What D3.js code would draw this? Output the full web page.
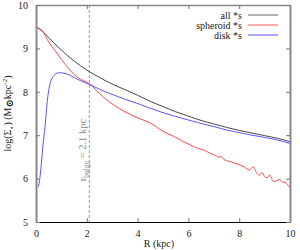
<!DOCTYPE html>
<html>
<head>
<meta charset="utf-8">
<script src="https://cdn.jsdelivr.net/npm/d3@7"></script>
<style>
  body { margin: 0; background: #fff; }
  svg text { font-family: "Liberation Serif", "DejaVu Serif", serif; fill: #222; }
</style>
</head>
<body>
<div id="chart"></div>
<script>
// radius (kpc) and log surface density for each component
var allR = [0, 0.25, 0.5, 0.75, 1, 1.25, 1.5, 1.75, 2, 2.5, 3, 3.5, 4, 4.5, 5, 5.5, 6, 6.5, 7, 7.5, 8, 8.5, 9, 9.5, 10];
var allLog = [9.49, 9.40, 9.25, 9.10, 8.96, 8.83, 8.71, 8.60, 8.50, 8.33, 8.18, 8.05, 7.92, 7.78, 7.66, 7.54, 7.44, 7.34, 7.26, 7.18, 7.11, 7.05, 6.99, 6.93, 6.85];

var spheroidR = [0, 0.25, 0.5, 0.75, 1, 1.25, 1.5, 1.75, 2, 2.25, 2.5, 3, 3.5, 4, 4.5, 5, 5.2, 5.4, 5.6, 5.8, 6, 6.2, 6.4, 6.6, 6.8, 7, 7.1, 7.2, 7.3, 7.4, 7.6, 7.8, 8, 8.2, 8.4, 8.55, 8.7, 8.8, 8.9, 9, 9.1, 9.2, 9.35, 9.5, 9.6, 9.7, 9.8, 9.9, 10];
var spheroidLog = [9.49, 9.40, 9.15, 8.95, 8.75, 8.56, 8.40, 8.29, 8.22, 8.11, 7.96, 7.72, 7.54, 7.40, 7.28, 7.09, 7.03, 6.98, 6.92, 6.85, 6.80, 6.74, 6.69, 6.66, 6.60, 6.55, 6.52, 6.49, 6.51, 6.44, 6.40, 6.36, 6.32, 6.27, 6.20, 6.27, 6.12, 6.08, 6.14, 6.05, 6.02, 6.08, 5.93, 5.96, 5.98, 5.92, 5.91, 5.86, 5.78];

var diskR = [0.08, 0.12, 0.16, 0.22, 0.28, 0.33, 0.38, 0.43, 0.48, 0.55, 0.65, 0.75, 0.9, 1.1, 1.3, 1.5, 1.7, 2.1, 2.5, 3, 3.5, 4, 4.5, 5, 5.5, 6, 6.5, 7, 7.5, 8, 8.5, 9, 9.5, 10];
var diskLog = [5.80, 5.88, 6.05, 6.40, 6.80, 7.05, 7.35, 7.70, 7.95, 8.18, 8.33, 8.40, 8.44, 8.43, 8.39, 8.33, 8.27, 8.17, 8.06, 7.94, 7.83, 7.73, 7.62, 7.52, 7.43, 7.35, 7.27, 7.20, 7.12, 7.06, 7.00, 6.95, 6.89, 6.81];

var xTicks = [0, 2, 4, 6, 8, 10];
var yTicks = [5, 6, 7, 8, 9, 10];
var legendNames = ["all *s", "spheroid *s", "disk *s"];
var rBulge = 2.1;

var W = 300, H = 250;
var margin = {left: 36, right: 290, top: 5, bottom: 222};

var x = d3.scaleLinear().domain([0, 10]).range([margin.left, margin.right]);
var y = d3.scaleLinear().domain([5, 10]).range([margin.bottom, margin.top]);

var svg = d3.select("#chart").append("svg")
    .attr("width", W)
    .attr("height", H);

// dashed bulge radius marker
svg.append("line")
    .attr("x1", x(rBulge)).attr("x2", x(rBulge))
    .attr("y1", margin.top).attr("y2", margin.bottom)
    .attr("stroke", "#999")
    .attr("stroke-width", 1)
    .attr("stroke-dasharray", "3,2");

var bl = svg.append("text")
    .attr("transform", "translate(" + (x(rBulge) - 3) + ",150) rotate(-90)")
    .attr("text-anchor", "middle")
    .style("fill", "#8a8a8a")
    .style("font-size", "10.5px");
bl.append("tspan").text("r");
bl.append("tspan").attr("baseline-shift", "-3").style("font-size", "7.5px").text("bulge");
bl.append("tspan").text(" = 2.1 kpc");

// curves
var line = d3.line()
    .x(function(d) { return x(d[0]); })
    .y(function(d) { return y(d[1]); })
    .curve(d3.curveMonotoneX);

var series = [
  { r: allR, v: allLog, color: "#333", key: "#999" },
  { r: spheroidR, v: spheroidLog, color: "#ff3333", key: "#ff9090" },
  { r: diskR, v: diskLog, color: "#4444ff", key: "#8c8cff" }
];

series.forEach(function(s) {
  svg.append("path")
      .datum(d3.zip(s.r, s.v))
      .attr("fill", "none")
      .attr("stroke", s.color)
      .attr("stroke-width", 0.9)
      .attr("d", line);
});

// axes, ticks pointing inward
function styleAxis(g, color, width) {
  g.select(".domain").attr("stroke", color).attr("stroke-width", width);
  g.selectAll(".tick line").attr("stroke", "#777");
  g.selectAll(".tick text").attr("fill", "#222").style("font-size", "10px")
      .style("font-family", "Liberation Serif, serif");
}

var gx = svg.append("g")
    .attr("transform", "translate(0," + margin.bottom + ")")
    .call(d3.axisBottom(x).tickValues(xTicks).tickSize(-4).tickSizeOuter(0).tickPadding(8).tickFormat(d3.format("d")));
styleAxis(gx, "#000", 1.2);

var gt = svg.append("g")
    .attr("transform", "translate(0," + margin.top + ")")
    .call(d3.axisTop(x).tickValues(xTicks).tickSize(-4).tickSizeOuter(0).tickFormat(""));
styleAxis(gt, "#888", 1.5);

var gy = svg.append("g")
    .attr("transform", "translate(" + margin.left + ",0)")
    .call(d3.axisLeft(y).tickValues(yTicks).tickSize(-4).tickSizeOuter(0).tickPadding(8).tickFormat(d3.format("d")));
styleAxis(gy, "#888", 2);

var gr = svg.append("g")
    .attr("transform", "translate(" + margin.right + ",0)")
    .call(d3.axisRight(y).tickValues(yTicks).tickSize(-4).tickSizeOuter(0).tickFormat(""));
styleAxis(gr, "#888", 2);

// axis titles
svg.append("text")
    .attr("x", (margin.left + margin.right) / 2 - 4)
    .attr("y", 247)
    .attr("text-anchor", "middle")
    .style("font-size", "10px")
    .text("R (kpc)");

var yl = svg.append("text")
    .attr("transform", "translate(11," + ((margin.top + margin.bottom) / 2) + ") rotate(-90)")
    .attr("text-anchor", "middle")
    .style("font-size", "10px");
yl.append("tspan").text("log(\u03A3");
yl.append("tspan").attr("baseline-shift", "-3").style("font-size", "7px").text("\u22C6");
yl.append("tspan").text(") (M");
yl.append("tspan").attr("baseline-shift", "-2").style("font-weight", "bold").text("\u2299");
yl.append("tspan").text("kpc");
yl.append("tspan").attr("baseline-shift", "4").style("font-size", "7px").text("-2");
yl.append("tspan").text(")");

// legend
var legend = svg.append("g");
legendNames.forEach(function(name, i) {
  var ly = 15 + i * 10;
  legend.append("text")
      .attr("x", 242)
      .attr("y", ly)
      .attr("dy", "0.35em")
      .attr("text-anchor", "end")
      .style("font-size", "10px")
      .text(name);
  legend.append("line")
      .attr("x1", 248).attr("x2", 278)
      .attr("y1", ly).attr("y2", ly)
      .attr("stroke", series[i].key)
      .attr("stroke-width", 1.5);
});
</script>
</body>
</html>
